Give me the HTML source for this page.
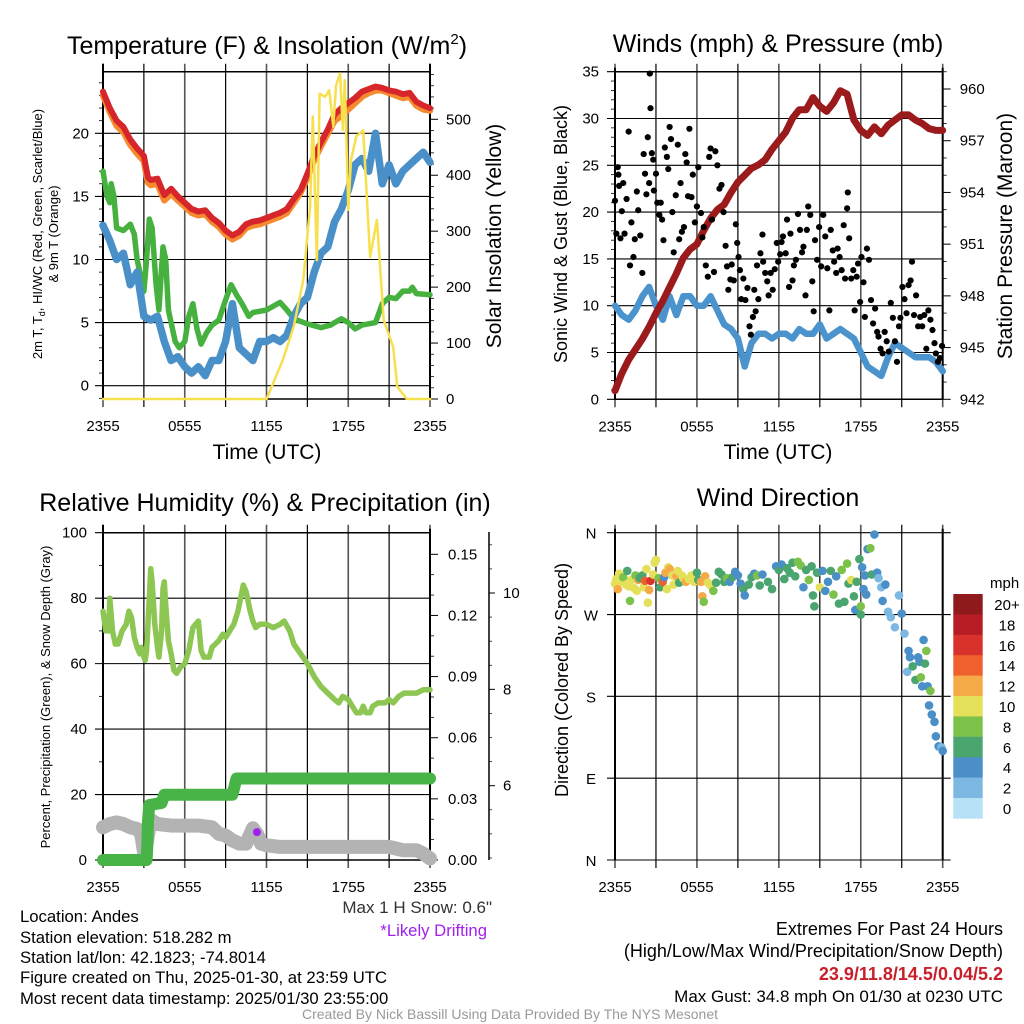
<!DOCTYPE html>
<html><head><meta charset="utf-8">
<style>
html,body{margin:0;padding:0;background:#fff;}
svg{display:block;font-family:"Liberation Sans",Arial,sans-serif;}
</style></head>
<body>
<svg id="chart" width="1024" height="1024" viewBox="0 0 1024 1024" xmlns="http://www.w3.org/2000/svg">
<rect x="0" y="0" width="1024" height="1024" fill="#fff"/>
<g id="p1"></g>
<g id="p2"></g>
<g id="p3"></g>
<g id="p4"></g>
<g id="txt">
<text x="267" y="54" font-size="25" text-anchor="middle">Temperature (F) &amp; Insolation (W/m<tspan font-size="15" dy="-10">2</tspan><tspan dy="10">)</tspan></text>
<text x="778" y="52" font-size="25" text-anchor="middle">Winds (mph) &amp; Pressure (mb)</text>
<text x="265" y="511" font-size="25" text-anchor="middle">Relative Humidity (%) &amp; Precipitation (in)</text>
<text x="778" y="506" font-size="25" text-anchor="middle">Wind Direction</text>
<text x="267" y="459" font-size="21" text-anchor="middle">Time (UTC)</text>
<text x="778" y="459" font-size="21" text-anchor="middle">Time (UTC)</text>
<text transform="translate(42,234) rotate(-90)" font-size="13" text-anchor="middle">2m T, T<tspan font-size="9" dy="3">d</tspan><tspan dy="-3">, HI/WC (Red, Green, Scarlet/Blue)</tspan></text>
<text transform="translate(58,234) rotate(-90)" font-size="13" text-anchor="middle">&amp; 9m T (Orange)</text>
<text transform="translate(501,236) rotate(-90)" font-size="21" text-anchor="middle">Solar Insolation (Yellow)</text>
<text transform="translate(567,234) rotate(-90)" font-size="18" text-anchor="middle">Sonic Wind &amp; Gust (Blue, Black)</text>
<text transform="translate(1012,236) rotate(-90)" font-size="21" text-anchor="middle">Station Pressure (Maroon)</text>
<text transform="translate(50,697) rotate(-90)" font-size="13" text-anchor="middle">Percent, Precipitation (Green), &amp; Snow Depth (Gray)</text>
<text transform="translate(568,680) rotate(-90)" font-size="18" text-anchor="middle">Direction (Colored By Speed)</text>
<text x="492" y="913" font-size="17" text-anchor="end" fill="#333">Max 1 H Snow: 0.6"</text>
<text x="487" y="936" font-size="16.7" text-anchor="end" fill="#a020f0">*Likely Drifting</text>
<text x="20" y="922" font-size="16.7">Location: Andes</text>
<text x="20" y="943" font-size="16.7">Station elevation: 518.282 m</text>
<text x="20" y="963" font-size="16.7">Station lat/lon: 42.1823; -74.8014</text>
<text x="20" y="983" font-size="16.7">Figure created on Thu, 2025-01-30, at 23:59 UTC</text>
<text x="20" y="1004" font-size="16.7">Most recent data timestamp: 2025/01/30 23:55:00</text>
<text x="1003" y="935" font-size="18" text-anchor="end">Extremes For Past 24 Hours</text>
<text x="1003" y="957" font-size="18" text-anchor="end">(High/Low/Max Wind/Precipitation/Snow Depth)</text>
<text x="1003" y="980" font-size="18" font-weight="bold" text-anchor="end" fill="#c8202b">23.9/11.8/14.5/0.04/5.2</text>
<text x="1003" y="1002" font-size="17" text-anchor="end">Max Gust: 34.8 mph On 01/30 at 0230 UTC</text>
<text x="510" y="1019" font-size="14" text-anchor="middle" fill="#999">Created By Nick Bassill Using Data Provided By The NYS Mesonet</text>
</g>
</svg>
<script>
// ---------- DATA ----------
const tempT = [0,0.5,1,1.5,2,2.5,3,3.3,3.5,4,4.5,5,5.5,6,6.5,7,7.5,8,8.5,9,9.5,10,10.5,11,11.5,12,12.5,13,13.5,14,14.5,15,15.5,16,16.5,17,17.5,18,18.5,19,19.5,20,20.5,21,21.5,22,22.5,23,23.5,24];
const tempRed = [23.3,22.0,21.0,20.5,19.5,18.8,18.2,16.5,16.3,16.4,15.1,15.6,15.0,14.5,14.0,13.8,13.9,13.3,12.9,12.3,11.9,12.2,12.8,13.0,13.1,13.3,13.5,13.7,14.0,14.8,15.5,16.8,18.2,19.3,20.3,21.5,22.0,22.4,22.8,23.3,23.5,23.7,23.6,23.4,23.3,23.1,23.2,22.5,22.2,22.0];
const tempOrange = [23.0,21.7,20.6,20.1,19.1,18.4,17.8,16.1,15.9,16.0,14.7,15.2,14.7,14.2,13.7,13.5,13.6,13.0,12.6,12.0,11.6,11.9,12.5,12.7,12.8,13.0,13.2,13.4,13.7,14.5,15.3,16.5,17.9,19.0,20.0,21.0,21.4,21.9,22.4,22.9,23.2,23.4,23.4,23.2,23.0,22.8,22.9,22.2,21.9,21.8];
const dewT = [0,0.3,0.5,0.6,0.8,1,1.5,2,2.3,2.5,2.8,3,3.2,3.4,3.6,3.9,4.1,4.4,4.6,4.8,5,5.3,5.6,6,6.3,6.6,6.9,7.2,7.6,8,8.5,9,9.4,9.8,10.2,10.7,11,12,13,13.5,14,15,16,16.7,17,17.5,18,18.5,19,20,20.5,21,21.5,22,22.5,22.7,23,24];
const dewV = [17.0,15.0,14.5,16.0,15.0,12.5,12.3,12.8,12.0,10.0,8.5,7.5,10.0,13.2,12.5,8.0,6.0,11.0,10.0,6.0,5.0,3.5,3.0,3.5,5.5,6.5,4.5,3.3,4.2,4.8,5.2,6.8,8.0,7.2,6.5,5.5,5.8,6.0,6.6,6.0,5.3,4.9,4.6,4.8,5.0,5.3,5.0,4.5,4.8,5.0,6.5,7.0,6.9,7.5,7.5,7.8,7.3,7.2];
const chillT = [0,0.5,1,1.5,2,2.5,3,3.5,4,4.5,5,5.5,6,6.5,7,7.5,8,8.5,9,9.5,10,10.5,11,11.5,12,12.5,13,13.5,14,14.5,15,15.5,16,16.5,17,17.5,18,18.5,19,19.5,20,20.5,21,21.5,22,22.5,23,23.5,24];
const chillV = [12.7,11.5,10.0,10.5,8.0,9.0,5.5,5.2,5.5,3.5,2.0,2.3,1.5,1.0,1.5,0.8,2.0,2.0,3.5,6.5,3.0,2.5,2.0,3.5,3.5,3.8,3.5,4.0,5.5,6.5,7.0,9.0,10.5,11.0,13.0,14.0,15.5,17.5,18.0,17.0,20.0,16.0,17.5,16.0,17.0,17.5,18.0,18.5,17.7];
const solarT = [0,12,13.2,14.0,14.7,15.2,15.4,15.7,15.9,16.3,16.6,16.9,17.1,17.4,17.6,17.75,18.0,18.2,18.6,19.1,19.6,20.1,20.6,21.3,21.6,22.3,24];
const solarV = [0,0,70,130,213,344,505,248,546,540,552,487,560,582,481,570,338,427,470,480,254,320,141,93,22,0,0];
const windT = chillT;
const windV = [10,9,8.5,9.5,11,12,10,8.5,11,9,11,11,10,10,11,9.5,8,7.5,6.5,3.5,6,7,7,6.5,7,7,6.5,7.5,7,7,8,6.5,7,7.5,7,6.5,5,3.5,3,2.5,4.5,6,5.5,5,4.5,4.5,4.5,4,3];
const presV = [942.5,943.5,944.3,944.9,945.5,946.2,947.0,947.7,948.5,949.3,950.2,950.7,951.0,951.8,952.5,953.0,953.3,954.0,954.6,955.0,955.4,955.6,955.9,956.5,957.0,957.5,958.3,958.8,958.8,959.5,959.0,958.7,959.2,959.9,959.7,958.2,957.6,957.3,957.8,957.4,957.9,958.2,958.5,958.5,958.2,958.0,957.7,957.6,957.6];
const gustT = [0,0.1,0.2,0.25,0.3,0.4,0.5,0.6,0.7,0.85,1.0,1.1,1.2,1.35,1.45,1.6,1.7,1.85,2.0,2.1,2.2,2.3,2.4,2.5,2.55,2.6,2.7,2.8,2.85,3.0,3.1,3.25,3.35,3.45,3.55,3.65,3.8,3.9,4.0,4.1,4.2,4.3,4.45,4.6,4.7,4.8,4.9,5.05,5.15,5.25,5.35,5.45,5.6,5.7,5.85,6.0,6.1,6.3,6.4,6.5,6.65,6.8,6.9,7.0,7.1,7.25,7.35,7.5,7.65,7.8,7.95,8.1,8.2,8.3,8.45,8.55,8.7,8.85,8.95,9.05,9.15,9.25,9.4,9.55,9.7,9.85,9.95,10.1,10.2,10.3,10.4,10.5,10.65,10.8,10.85,11.0,11.15,11.25,11.4,11.55,11.7,11.85,11.95,12.1,12.2,12.3,12.5,12.6,12.75,12.85,13.0,13.1,13.25,13.4,13.55,13.7,13.8,13.95,14.05,14.15,14.3,14.45,14.55,14.65,14.8,14.95,15.1,15.25,15.4,15.55,15.7,15.8,15.95,16.05,16.2,16.3,16.45,16.6,16.75,16.85,17.0,17.05,17.15,17.3,17.45,17.55,17.7,17.8,17.95,18.05,18.2,18.3,18.45,18.6,18.75,18.9,19.05,19.2,19.3,19.45,19.6,19.75,19.9,20.05,20.2,20.35,20.5,20.65,20.8,20.9,21.05,21.2,21.35,21.5,21.65,21.75,21.9,22.05,22.2,22.35,22.5,22.65,22.8,22.95,23.1,23.25,23.4,23.5,23.65,23.8,23.95];
const gustV = [21.2,17.7,24.8,24,22.8,17.2,20.1,23.1,17.7,21.4,28.6,14.3,18.9,15.2,17.1,22.2,20.2,17.5,13.5,26.2,24.1,21.9,28,23.1,34.8,31.1,26.3,25.6,22.3,24.1,21,19.7,21,19.2,17,26.9,25.9,24.6,29.1,27.8,20,15.7,21.8,27.2,17.1,23.1,17.9,18.4,26.2,25.3,21.7,28.9,21.6,24,18.9,20.6,24.8,19.9,17.3,18.4,14.3,13.1,25.9,26.8,19.2,13.6,26.5,25,22.5,22.9,20,16.4,14.2,11.7,12.8,14.4,12.7,18.7,16.7,15.2,13.8,10.7,12.9,10.6,11.9,7.8,6.9,8.8,11.7,9.4,14.3,10.7,15.6,17.6,14.7,13.5,12.6,11.1,13.5,11.7,13.9,16.7,14.7,15.5,16.8,17.4,15.6,19.2,12,17.7,12.7,14.3,14.9,19.8,18.1,15.7,16.3,11.1,18.1,20.6,19.7,12.6,9.4,17,14.9,18.4,14.2,19.7,17.4,14,9.5,18.1,15.9,14.7,13.5,16.1,15.2,13.8,18.6,12.9,20.4,22.1,17.2,12.9,13.8,9.5,13.1,14.5,10.4,15.2,12.5,8.8,16.1,14.9,10.6,8.1,9.7,7.2,6.7,5.4,4.9,7.2,6.2,5.1,10.3,8.7,6.2,4,7.8,8.7,12,10.7,9.2,12.2,12.7,14.7,9,11.1,7.8,8.8,7.8,9,5.4,9.5,8.5,7.4,6,4.9,4,4.4,5.7];
const rhT = [0,0.2,0.4,0.5,0.7,0.9,1.1,1.4,1.7,1.9,2.1,2.3,2.5,2.7,2.8,3.0,3.1,3.2,3.4,3.5,3.6,3.8,4.0,4.1,4.3,4.4,4.5,4.6,4.8,5.0,5.2,5.4,5.7,6.0,6.3,6.6,6.8,7.0,7.2,7.4,7.8,8.0,8.5,8.8,9.0,9.3,9.6,9.9,10.1,10.3,10.5,10.8,11.0,11.2,11.5,12,12.5,13,13.3,13.7,14,14.5,15,15.5,16,16.5,17,17.3,17.6,18,18.3,18.6,18.9,19.1,19.3,19.6,19.8,20.2,20.7,21,21.3,21.7,22.1,22.5,23,23.5,24];
const rhV = [76,70,70,80,70,66,66,70,72,76,74,68,65,63,65,62,61,64,80,89,85,72,65,62,70,83,85,78,67,63,58,57,59,60,64,71,72,73,64,62,62,65,67,69,68,70,72,76,80,84,82,76,73,71,72,72,71,72,73,70,66,63,60,56,53,51,49,48,50,49,47,45,45,47,45,45,47,48,48,49,48,50,51,51,51,52,52];
const precipT = [0,3.2,3.25,3.3,3.4,4.3,4.5,9.5,9.8,24];
const precipV = [0,0,0.007,0.019,0.027,0.028,0.032,0.032,0.04,0.04];
const snowT = [0,0.5,1,1.5,2,2.5,2.8,3.0,3.2,3.4,3.6,4,5,6,7,8,8.5,9,9.5,10,10.5,11,11.3,11.6,12,13,14,16,18,20,21,21.5,22,23,23.5,24];
const snowV = [10,11,11.5,11,10,9.5,8,2.5,5,10,12,11,10.5,10.5,10.5,10,8,7.5,6,5,5,9.7,8,5,4.5,4,4,4,4,4,4,3.5,3,3,2,0.5];
const driftT = [11.3];
const driftV = [8.5];
const dirT = [0.0,0.1,0.2,0.3,0.4,0.5,0.6,0.8,0.9,1.0,1.1,1.2,1.4,1.5,1.6,1.7,1.8,2.0,2.1,2.2,2.3,2.4,2.5,2.6,2.8,2.9,3.0,3.2,3.3,3.5,3.6,3.7,3.8,3.9,4.0,4.2,4.3,4.5,4.6,4.7,4.9,5.0,5.2,5.4,5.6,5.8,6.0,6.1,6.3,6.4,6.5,6.6,6.8,7.0,7.2,7.4,7.6,7.8,8.0,8.2,8.4,8.6,8.8,9.0,9.2,9.4,9.5,9.8,10.0,10.2,10.4,10.6,10.8,11.2,11.5,11.8,12.0,12.2,12.4,12.6,12.8,13.0,13.2,13.4,13.6,13.8,14.0,14.2,14.4,14.5,14.6,14.8,15.0,15.2,15.4,15.6,15.8,16.0,16.2,16.4,16.6,16.8,17.0,17.1,17.3,17.5,17.6,17.7,17.9,18.0,18.0,18.1,18.2,18.3,18.4,18.5,18.7,18.8,19.0,19.2,19.3,19.5,19.6,19.8,20.0,20.2,20.5,20.8,21.0,21.2,21.4,21.5,21.6,21.8,22.0,22.2,22.4,22.5,22.6,22.8,23.0,23.2,23.4,23.5,23.7,23.9,24.0,22.9,22.3,22.7,23.1];
const dirV = [304,309,298,315,312,306,311,303,318,301,285,308,299,313,296,308,310,313,300,307,320,283,297,307,314,327,330,310,300,306,311,316,298,322,320,313,303,312,318,305,313,310,306,309,313,306,316,308,306,290,284,312,305,302,296,305,317,314,306,310,306,311,317,313,304,298,291,303,311,315,313,302,314,306,298,323,319,325,309,321,316,327,312,328,324,300,319,308,323,291,279,316,300,318,296,306,318,292,312,282,319,284,326,304,308,290,275,306,331,270,279,322,298,313,292,342,343,314,358,316,310,300,285,303,273,267,256,291,271,249,207,230,223,213,198,223,201,191,242,230,170,160,152,136,125,124,120,191,218,216,186];
const dirS = [10,11,13,10,11,10,9,10,7,10,8,11,11,9,10,13,7,7,10,15,11,10,13,16,11,10,10,9,7,15,5,13,10,10,12,10,10,12,10,7,11,10,12,10,10,10,7,7,12,12,8,12,11,10,8,7,6,7,7,8,5,7,4,4,4,6,4,6,7,5,8,6,4,6,6,5,7,4,6,7,7,7,7,8,8,4,6,8,6,6,6,6,10,5,4,5,6,8,5,6,8,6,8,6,10,6,4,6,6,6,8,4,4,4,4,4,8,6,4,4,2,2,4,4,2,2,2,2,4,2,2,4,4,6,6,4,8,4,4,8,4,4,4,4,4,2,4,4,4,6,8,2];
const speedBins = ['0','2','4','6','8','10','12','14','16','18','20+'];
const binColors = ['#b6e1f7','#7db8e3','#4a8fc7','#4aa56e','#7cc24a','#e5e05a','#f5a947','#ee612d','#d9312b','#b81c24','#8e1a1c'];
const timeLabels = ['2355','0555','1155','1755','2355'];

// ---------- HELPERS ----------
const NS = 'http://www.w3.org/2000/svg';
function mk(parent, tag, attrs) {
  const e = document.createElementNS(NS, tag);
  for (const k in attrs) e.setAttribute(k, attrs[k]);
  parent.appendChild(e);
  return e;
}
function ln(g, x1, y1, x2, y2, stroke, w) {
  const e = mk(g, 'line', {x1: x1, y1: y1, x2: x2, y2: y2, stroke: stroke, 'stroke-width': w});
  
  
  return e;
}
function tx(g, x, y, s, anchor, size) {
  const e = mk(g, 'text', {x: x, y: y, 'font-size': size || 14, 'text-anchor': anchor || 'middle'});
  e.textContent = s;
  
  
  return e;
}
function path(g, ts, vs, xs, ys, stroke, w, name) {
  let d = '';
  for (let i = 0; i < ts.length; i++) d += (i ? 'L' : 'M') + xs(ts[i]).toFixed(1) + ',' + ys(vs[i]).toFixed(1);
  const e = mk(g, 'path', {d: d, fill: 'none', stroke: stroke, 'stroke-width': w, 'stroke-linejoin': 'round', 'stroke-linecap': 'round'});
  
  
  return e;
}
function frame(g, L, R, T, B, pfx) {
  const xs = h => L + (R - L) * h / 24;
  for (let i = 0; i <= 8; i++) {
    const x = xs(i * 3);
    ln(g, x, T - 8, x, B + 8, i % 2 ? '#000' : '#555', i % 2 ? 1.2 : 1.6);
  }
  for (let i = 0; i < 5; i++) {
    const t = tx(g, xs(i * 6), B + 32, timeLabels[i], 'middle', 15);
    
  }
  return xs;
}

// ---------- PANEL 1 ----------
(function(){
  const g = document.getElementById('p1');
  const L = 103, R = 430, T = 71.7, B = 399;
  const xs = frame(g, L, R, T, B, 'p1');
  const ys = v => 385.7 - (385.7 - 133.3) * v / 20;
  const ys2 = v => 399 - (399 - 119.3) * v / 500;
  for (let v = 0; v <= 20; v += 5) { ln(g, L - 8, ys(v), R, ys(v), '#000', 1.1); tx(g, L - 14, ys(v) + 5, String(v), 'end', 15); }
  for (let v = -1; v <= 24; v++) if (v % 5) ln(g, L - 4, ys(v), L, ys(v), '#000', 0.8);
  for (let v = 0; v <= 500; v += 100) { ln(g, R, ys2(v), R + 8, ys2(v), '#000', 1); tx(g, R + 16, ys2(v) + 5, String(v), 'start', 15); }
  for (let v = 20; v <= 580; v += 20) if (v % 100) ln(g, R, ys2(v), R + 4, ys2(v), '#000', 0.8);
  ln(g, L, T, R, T, '#000', 1.5); ln(g, L, B, R, B, '#000', 1.5);
  ln(g, L, T - 8, L, B, '#000', 2); ln(g, R, T - 8, R, B, '#000', 2);
  path(g, tempT, tempOrange, xs, ys, '#f58b2e', 6.5, 'orange-9m-temp-line');
  path(g, tempT, tempRed, xs, ys, '#d7262b', 6, 'red-2m-temp-line');
  path(g, dewT, dewV, xs, ys, '#46b13f', 5.5, 'green-dewpoint-line');
  path(g, chillT, chillV, xs, ys, '#4a90c8', 7.5, 'blue-windchill-line');
  path(g, solarT, solarV, xs, ys2, '#f7e04d', 2.5, 'yellow-solar-line');
})();

// ---------- PANEL 2 ----------
(function(){
  const g = document.getElementById('p2');
  const L = 615, R = 942.7, T = 71.7, B = 399.3;
  const xs = frame(g, L, R, T, B, 'p2');
  const ys = v => B - (B - T) * v / 35;
  const ys2 = v => 399.3 - (399.3 - 89) * (v - 942) / 18;
  for (let v = 0; v <= 35; v += 5) { ln(g, L - 8, ys(v), R, ys(v), '#000', 1.1); tx(g, L - 16, ys(v) + 5, String(v), 'end', 15); }
  for (let v = 0; v <= 35; v++) if (v % 5) ln(g, L - 4, ys(v), L, ys(v), '#000', 0.8);
  for (let v = 942; v <= 960; v += 3) { ln(g, R, ys2(v), R + 8, ys2(v), '#000', 1); tx(g, R + 17, ys2(v) + 5, String(v), 'start', 15); }
  for (let v = 942; v <= 961; v++) if ((v - 942) % 3) ln(g, R, ys2(v), R + 4, ys2(v), '#000', 0.8);
  ln(g, L, T, R, T, '#000', 1.5); ln(g, L, B, R, B, '#000', 1.5);
  ln(g, L, T - 4, L, B, '#000', 2); ln(g, R, T - 4, R, B, '#000', 2);
  path(g, windT, windV, xs, ys, '#4b93cc', 6.5, 'blue-sonic-wind-line');
  path(g, windT, presV, xs, ys2, '#9b1a1c', 7, 'maroon-pressure-line');
  for (let i = 0; i < gustT.length; i++) {
    const c = mk(g, 'circle', {cx: xs(gustT[i]), cy: ys(gustV[i]), r: 3.1, fill: '#000'});
    
    
  }
})();

// ---------- PANEL 3 ----------
(function(){
  const g = document.getElementById('p3');
  const L = 103, R = 430, T = 532.7, B = 860;
  const xs = frame(g, L, R, T, B, 'p3');
  const ys = v => B - (B - T) * v / 100;
  const ys2 = v => 860 - (860 - 554.3) * v / 0.15;
  for (let v = 0; v <= 100; v += 20) { ln(g, L - 8, ys(v), R, ys(v), '#000', 1.1); tx(g, L - 16, ys(v) + 5, String(v), 'end', 15); }
  for (let v = 10; v <= 100; v += 20) ln(g, L - 4, ys(v), L, ys(v), '#000', 0.8);
  const pt = ['0.00','0.03','0.06','0.09','0.12','0.15'];
  for (let i = 0; i <= 5; i++) { const v = i * 0.03; ln(g, R, ys2(v), R + 8, ys2(v), '#000', 1); tx(g, R + 18, ys2(v) + 5, pt[i], 'start', 15); }
  for (let i = 0; i < 16; i++) if (i % 3) ln(g, R, ys2(i * 0.01), R + 4, ys2(i * 0.01), '#000', 0.8);
  const ys3 = v => 785.7 - (785.7 - 593) * (v - 6) / 4;
  ln(g, 489, 532, 489, 860, '#000', 1.5);
  for (let v = 6; v <= 10; v += 2) { ln(g, 489, ys3(v), 495, ys3(v), '#000', 1); tx(g, 503, ys3(v) + 5, String(v), 'start', 15); }
  [3.5, 4, 4.5, 5, 5.5, 6.5, 7, 7.5, 8.5, 9, 9.5, 10.5, 11].forEach(function(v){ if (ys3(v) > 532 && ys3(v) < 860) ln(g, 489, ys3(v), 492, ys3(v), '#000', 0.7); });
  ln(g, L, T, R, T, '#000', 1.5); ln(g, L, B, R, B, '#000', 1.5);
  ln(g, L, T - 8, L, B, '#000', 2); ln(g, R, T - 4, R, B, '#000', 2);
  path(g, snowT, snowV, xs, ys, '#b3b3b3', 14, 'gray-snow-depth-line');
  path(g, precipT, precipV, xs, ys2, '#48b347', 12, 'green-precip-line');
  path(g, rhT, rhV, xs, ys, '#8dc653', 5.5, 'rh-line');
  for (let i = 0; i < driftT.length; i++) {
    const c = mk(g, 'circle', {cx: xs(driftT[i]), cy: ys(driftV[i]), r: 4, fill: '#a020f0'});
    
    
  }
})();

// ---------- PANEL 4 ----------
(function(){
  const g = document.getElementById('p4');
  const L = 615, R = 942.7, T = 532.7, B = 860;
  const xs = frame(g, L, R, T, B, 'p4');
  const ys = d => B - (B - T) * d / 360;
  const dl = ['N','E','S','W','N'];
  for (let i = 0; i <= 4; i++) { ln(g, L - 8, ys(i * 90), R + 8, ys(i * 90), '#000', 1.1); tx(g, L - 24, ys(i * 90) + 6, dl[i], 'middle', 15); }
  ln(g, L, T - 4, L, B, '#000', 2); ln(g, R, T - 4, R, B, '#000', 2);
  for (let i = 0; i < dirT.length; i++) {
    const b = Math.min(10, Math.floor(dirS[i] / 2));
    const c = mk(g, 'circle', {cx: xs(dirT[i]), cy: ys(dirV[i]), r: 4.3, fill: binColors[b]});
    
    
  }
  const cbT = 594, cbH = 20.4;
  const t = tx(g, 990, 588, 'mph', 'start', 15);
  
  for (let i = 0; i < speedBins.length; i++) {
    const k = speedBins.length - 1 - i;
    const r = mk(g, 'rect', {x: 953.3, y: cbT + i * cbH, width: 29.4, height: cbH + 0.3, fill: binColors[k]});
    
    
    const l = tx(g, 1007, cbT + i * cbH + 16, speedBins[k], 'middle', 15);
    
  }
})();
</script>
</body></html>
